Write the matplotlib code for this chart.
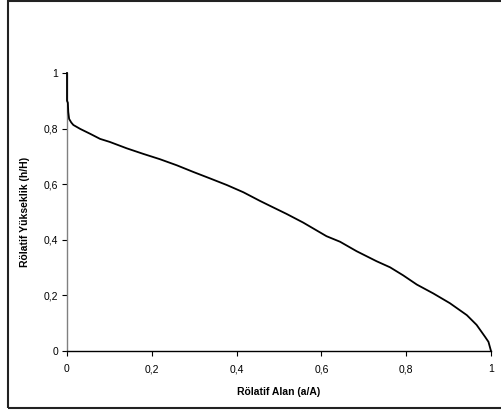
import matplotlib
matplotlib.use("Agg")
import matplotlib.pyplot as plt
from matplotlib.patches import Rectangle

plt.rcParams['font.family'] = ['Liberation Sans', 'DejaVu Sans']

# Relative area (a/A) and relative height (h/H)
rel_area = [0.0, 0.0, 0.002, 0.003, 0.005, 0.010, 0.015, 0.031, 0.055, 0.078, 0.101,
            0.141, 0.180, 0.219, 0.259, 0.298, 0.337, 0.377, 0.416, 0.455,
            0.479, 0.518, 0.557, 0.612, 0.644, 0.683, 0.730, 0.762, 0.793,
            0.825, 0.864, 0.903, 0.943, 0.966, 0.986, 0.994, 1.0]
rel_height = [1.0, 0.90, 0.893, 0.86, 0.835, 0.822, 0.813, 0.799, 0.781, 0.763, 0.752,
              0.729, 0.709, 0.690, 0.668, 0.644, 0.621, 0.597, 0.571, 0.540,
              0.522, 0.493, 0.462, 0.413, 0.393, 0.359, 0.323, 0.301, 0.272,
              0.239, 0.207, 0.172, 0.129, 0.094, 0.051, 0.033, 0.0]

tick_values = [0, 0.2, 0.4, 0.6, 0.8, 1.0]
tick_labels = ['0', '0,2', '0,4', '0,6', '0,8', '1']

W, H = 501, 412
fig = plt.figure(figsize=(W / 100, H / 100), dpi=100)
ax = fig.add_axes([67 / W, 1 - 351 / H, (491 - 67) / W, (351 - 73) / H])

ax.plot(rel_area, rel_height, color='black', lw=1.3, solid_joinstyle='round', clip_on=False, zorder=3)

ax.set_xlim(0, 1)
ax.set_ylim(0, 1)
ax.set_xticks(tick_values)
ax.set_xticklabels(tick_labels)
ax.set_yticks(tick_values)
ax.set_yticklabels(tick_labels)

for s in ['top', 'right']:
    ax.spines[s].set_visible(False)
ax.spines['left'].set_color('#808080')
ax.spines['left'].set_linewidth(1.0)
ax.spines['bottom'].set_color('black')
ax.spines['bottom'].set_linewidth(1.0)

ax.tick_params(axis='both', direction='out', length=3.5, width=0.8, labelsize=7.5, colors='black')
ax.tick_params(axis='x', pad=6)
ax.tick_params(axis='y', pad=3)

ax.set_xlabel('Rölatif Alan (a/A)', fontsize=7.5, fontweight='bold', labelpad=9)
ax.set_ylabel('Rölatif Yükseklik (h/H)', fontsize=7.5, fontweight='bold', labelpad=10)

# outer chart border (Excel chart area)
border = Rectangle((8 / W, 1 - 408 / H), 1.2, 407 / H, transform=fig.transFigure,
                   fill=False, edgecolor='#222222', lw=1.5, clip_on=False)
fig.add_artist(border)

fig.savefig('out.png', dpi=100)
